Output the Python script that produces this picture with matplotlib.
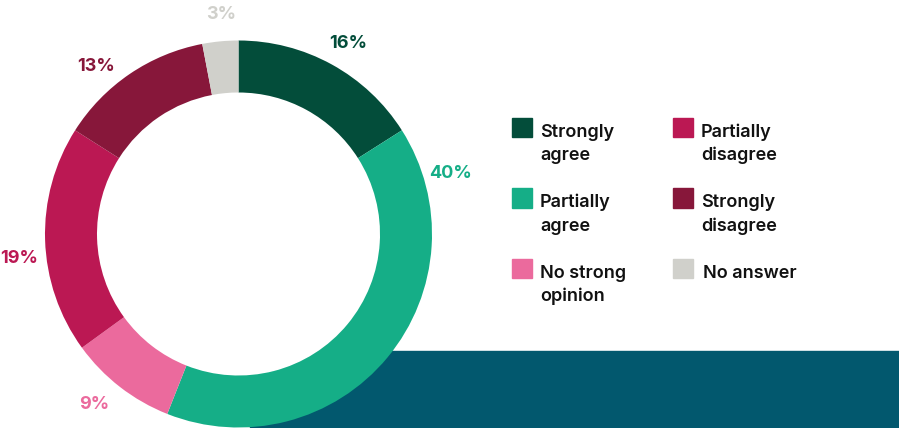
import numpy as np
import matplotlib
matplotlib.use("Agg")
import matplotlib.pyplot as plt
from matplotlib.patches import Rectangle, Circle

# survey answers, clockwise from 12 o'clock
answers = ["Strongly\nagree", "Partially\nagree", "No strong\nopinion",
           "Partially\ndisagree", "Strongly\ndisagree", "No answer"]
shares = [16, 40, 9, 19, 13, 3]
colors = ["#034d3a", "#15ae87", "#eb6a9d", "#bb1853", "#87173a", "#d0d0cb"]
# the big slice has its label nudged up towards the top
label_shift = [-1, 56, -3, 4, 6, -1]

plt.rcParams['font.family'] = ['Inter', 'DejaVu Sans']

fig = plt.figure(figsize=(8.99, 4.28), dpi=100)
ax = fig.add_axes([0, 0, 1, 1])

# dark band behind the donut
ax.add_patch(Rectangle((250, 0), 649, 77, color="#02586e", zorder=0))

cx, cy, r_out, ring = 238.5, 194, 193.5, 52
# white hole so the band doesn't show through
ax.add_patch(Circle((cx, cy), r_out - ring + 0.5, color="white", zorder=1))
wedges, _ = ax.pie(shares, colors=colors, startangle=90, counterclock=False,
                   radius=r_out, center=(cx, cy),
                   wedgeprops=dict(width=ring, edgecolor="none", zorder=2))

# percentage labels around the ring
start = 90
for s, c, shift in zip(shares, colors, label_shift):
    mid = start - s * 3.6 / 2 + shift
    start -= s * 3.6
    a = np.deg2rad(mid)
    ax.text(cx + 221 * np.cos(a), cy - 2 + 222 * np.sin(a), f"{s}%", color=c,
            fontsize=13, fontweight=700, ha="center", va="center")

# legend, two columns of three
for i, (lab, c) in enumerate(zip(answers, colors)):
    col, row = i // 3, i % 3
    x0 = 512 + col * 161
    y0 = 428 - 137 - row * 70.5
    ax.add_patch(Rectangle((x0, y0), 20, 19.5, color=c))
    tx = x0 + 28 + (2 if lab == "No answer" else 0)
    for k, line in enumerate(lab.split("\n")):
        ax.text(tx, y0 + 0.5 - k * 23.5, line, color="#111111", fontsize=13,
                fontweight=600, ha="left", va="baseline")

ax.set_xlim(0, 899)
ax.set_ylim(0, 428)
ax.set_aspect("auto")
ax.axis("off")

fig.savefig("out.png", dpi=100)
